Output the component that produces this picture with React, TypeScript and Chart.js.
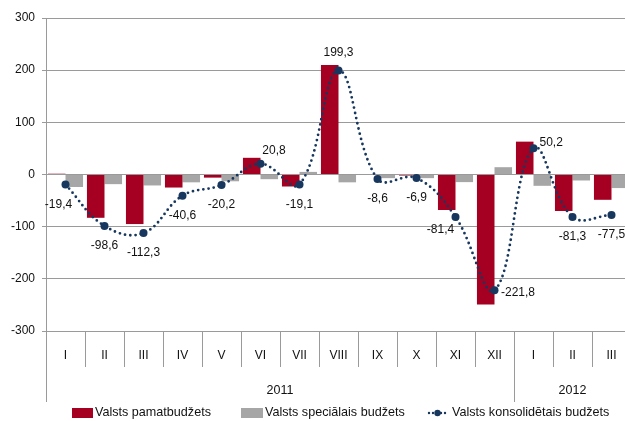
import React, { useEffect, useRef } from 'react';
import { Chart, registerables } from 'chart.js';

Chart.register(...registerables);

// ---- data ----
const categories = ['I', 'II', 'III', 'IV', 'V', 'VI', 'VII', 'VIII', 'IX', 'X', 'XI', 'XII', 'I', 'II', 'III'];
const yearLabels = ['2011', '2012'];
const yearSpans = [12, 3];
const basicBudget = [1.5, -83, -95, -25, -6, 32, -23, 210, -1, -2, -68, -249, 63, -70, -48.5];
const specialBudget = [-24, -18.5, -21, -15, -13, -9, 5, -15, -7, -7, -14.6, 14, -21.7, -11.5, -26];
const consolidated = [-19.4, -98.6, -112.3, -40.6, -20.2, 20.8, -19.1, 199.3, -8.6, -6.9, -81.4, -221.8, 50.2, -81.3, -77.5];
const yTicks = [-300, -200, -100, 0, 100, 200, 300];
const seriesNames = ['Valsts pamatbudžets', 'Valsts speciālais budžets', 'Valsts konsolidētais budžets'];

// ---- styles ----
const RED = '#A50021';
const GREY = '#A6A6A6';
const NAVY = '#17375E';
const GRID = '#9A9A9A';
const TEXT = '#111111';
const FONT_FAMILY = '"Liberation Sans", Arial, sans-serif';
const labelPlacement = ['belowLeft', 'below', 'below', 'below', 'below', 'aboveRight', 'below', 'above', 'below', 'below', 'leftBelow', 'right', 'rightUp', 'below', 'below'];

const fmt = (v: number) => v.toFixed(1).replace('.', ',');

const overlay = {
  id: 'overlay',
  afterDraw(chart: any) {
    const ctx = chart.ctx as CanvasRenderingContext2D;
    const xs = chart.scales.x;
    const area = chart.chartArea;
    ctx.save();

    // data labels
    const meta = chart.getDatasetMeta(2);
    ctx.font = `12px ${FONT_FAMILY}`;
    ctx.fillStyle = TEXT;
    ctx.textBaseline = 'middle';
    meta.data.forEach((pt: any, i: number) => {
      const t = fmt(consolidated[i]);
      const p = labelPlacement[i];
      let x = pt.x, y = pt.y, align: CanvasTextAlign = 'center';
      if (p === 'below') { y += 20; }
      else if (p === 'above') { y -= 17.5; }
      else if (p === 'aboveRight') { x += 13.5; y -= 13; }
      else if (p === 'belowLeft') { x -= 7; y += 20; }
      else if (p === 'leftBelow') { x -= 15; y += 13; }
      else if (p === 'right') { x += 6.5; y += 2; align = 'left'; }
      else if (p === 'rightUp') { x += 6; y -= 6; align = 'left'; }
      ctx.textAlign = align;
      ctx.fillText(t, x, y);
    });

    // year row separators
    const bottom = area.bottom;
    const lineEnd = bottom + 71;
    ctx.strokeStyle = GRID;
    ctx.lineWidth = 1;
    const half = (xs.getPixelForValue(1) - xs.getPixelForValue(0)) / 2;
    let start = 0;
    const boundaries: number[] = [xs.getPixelForValue(0) - half];
    yearSpans.forEach((n) => {
      start += n;
      boundaries.push(xs.getPixelForValue(start - 1) + half);
    });
    boundaries.forEach((bx) => {
      const px = Math.round(bx) + 0.5;
      ctx.beginPath();
      ctx.moveTo(px, bottom);
      ctx.lineTo(px, lineEnd);
      ctx.stroke();
    });

    // year labels
    ctx.font = `12.5px ${FONT_FAMILY}`;
    ctx.textAlign = 'center';
    ctx.fillStyle = TEXT;
    let s = 0;
    yearLabels.forEach((yl, k) => {
      const a = xs.getPixelForValue(s);
      const b = xs.getPixelForValue(s + yearSpans[k] - 1);
      ctx.fillText(yl, (a + b) / 2, bottom + 60);
      s += yearSpans[k];
    });

    // legend
    const ly = 413;
    ctx.font = `12.6px ${FONT_FAMILY}`;
    ctx.textAlign = 'left';
    ctx.fillStyle = RED;
    ctx.fillRect(72, ly - 5, 21, 10);
    ctx.fillStyle = TEXT;
    ctx.fillText(seriesNames[0], 95, ly);
    ctx.fillStyle = GREY;
    ctx.fillRect(241, ly - 5, 22, 10);
    ctx.fillStyle = TEXT;
    ctx.fillText(seriesNames[1], 265, ly);
    ctx.strokeStyle = NAVY;
    ctx.lineWidth = 2.4;
    ctx.lineCap = 'round';
    ctx.setLineDash([0, 4]);
    ctx.beginPath();
    ctx.moveTo(429, ly);
    ctx.lineTo(447, ly);
    ctx.stroke();
    ctx.setLineDash([]);
    ctx.fillStyle = NAVY;
    ctx.beginPath();
    ctx.arc(437.5, ly, 3.2, 0, Math.PI * 2);
    ctx.fill();
    ctx.fillStyle = TEXT;
    ctx.fillText(seriesNames[2], 452, ly);

    ctx.restore();
  },
};

export default function App() {
  const ref = useRef<HTMLCanvasElement>(null);
  useEffect(() => {
    const canvas = ref.current!;
    const chart = new Chart(canvas, {
      type: 'bar',
      data: {
        labels: categories,
        datasets: [
          {
            type: 'bar',
            label: seriesNames[0],
            data: basicBudget,
            backgroundColor: RED,
            categoryPercentage: 0.9,
            barPercentage: 1.0,
            order: 2,
          },
          {
            type: 'bar',
            label: seriesNames[1],
            data: specialBudget,
            backgroundColor: GREY,
            categoryPercentage: 0.9,
            barPercentage: 1.0,
            order: 2,
          },
          {
            type: 'line',
            label: seriesNames[2],
            data: consolidated,
            borderColor: NAVY,
            borderWidth: 2.8,
            borderDash: [0, 5.3],
            borderCapStyle: 'round',
            tension: 0.4,
            fill: false,
            pointRadius: 4,
            pointHoverRadius: 4,
            pointBackgroundColor: NAVY,
            pointBorderWidth: 0,
            order: 0,
          } as any,
        ],
      },
      options: {
        animation: false,
        responsive: false,
        maintainAspectRatio: false,
        events: [],
        layout: { padding: { left: 0, right: 9, top: 18, bottom: 0 } },
        plugins: { legend: { display: false }, tooltip: { enabled: false } },
        scales: {
          x: {
            grid: { display: true, drawOnChartArea: false, offset: true, tickLength: 36, color: GRID, lineWidth: 1 },
            border: { display: true, color: GRID },
            ticks: { padding: -19, color: TEXT, maxRotation: 0, autoSkip: false, font: { family: FONT_FAMILY, size: 12 } },
            afterFit: (sc: any) => { sc.height = 90; },
          },
          y: {
            min: yTicks[0],
            max: yTicks[yTicks.length - 1],
            ticks: { stepSize: 100, padding: 7, color: TEXT, font: { family: FONT_FAMILY, size: 12 } },
            grid: { color: GRID, tickLength: 4, lineWidth: 1 },
            border: { display: true, color: GRID },
            afterFit: (sc: any) => { sc.width = 46; },
          },
        },
      } as any,
      plugins: [overlay],
    });
    return () => chart.destroy();
  }, []);
  return (
    <div style={{ position: 'fixed', left: 0, top: 0, width: 625, height: 421, overflow: 'hidden', background: '#fff' }}>
      <canvas ref={ref} width={640} height={421} style={{ display: 'block' }} />
    </div>
  );
}
